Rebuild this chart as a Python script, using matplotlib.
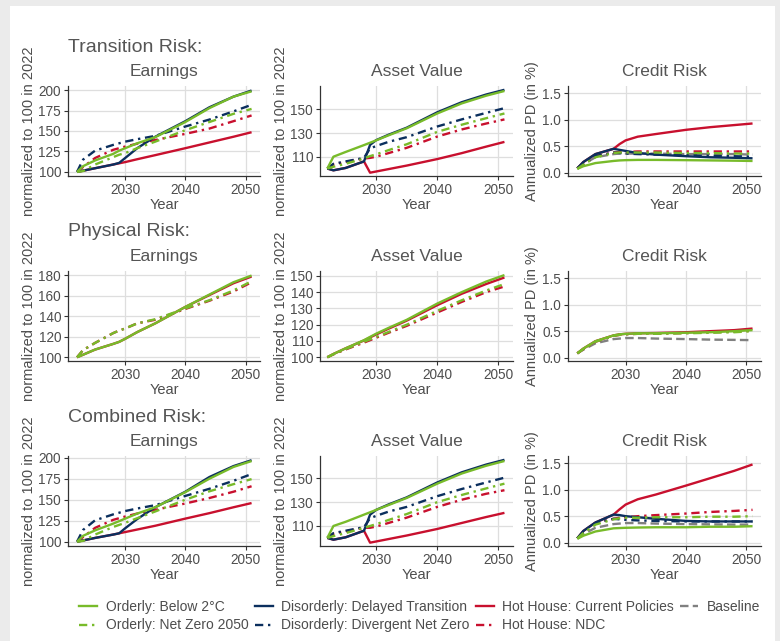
import matplotlib
matplotlib.use("Agg")
import matplotlib.pyplot as plt
from matplotlib.patches import Rectangle
from matplotlib.lines import Line2D

plt.rcParams['font.family'] = ['Liberation Sans', 'DejaVu Sans']

years = [2022, 2023, 2025, 2028, 2029, 2030, 2032, 2035, 2040, 2044, 2048, 2051]

# transition risk
te_below2 = [100, 107, 114, 122, 126, 129, 135, 142.5, 161, 178, 192, 198.5]
te_nz2050 = [100, 101, 109, 118, 121, 123, 129, 137, 151, 161, 171, 177]
te_delayed = [100, 101.5, 104.5, 109, 111, 117, 129, 143, 162, 179, 192, 199.5]
te_divergent = [100, 115, 126, 133, 135, 137, 140, 144, 155.5, 164, 174, 182]
te_current = [100, 101.5, 104.5, 109, 110.5, 112, 115.5, 120.5, 129, 136, 143, 148.5]
te_ndc = [100, 106, 117, 127, 129, 131, 134.5, 139, 146.5, 153, 162, 169]

ta_below2 = [100, 110, 114, 119.8, 121.8, 123.8, 128, 134, 146.5, 155, 161.5, 165.5]
ta_nz2050 = [100, 101.5, 104, 108.5, 110.5, 112, 115.5, 120.5, 131, 137, 142.5, 146.5]
ta_delayed = [100, 98.5, 100.5, 106, 120, 124, 128.5, 134.5, 147.5, 156, 162.5, 166.5]
ta_divergent = [100, 104, 106, 109, 117, 119, 122.5, 126.5, 135.5, 141.5, 147, 151]
ta_current = [100, 98.5, 100.5, 106, 96.5, 97.5, 99.5, 102.5, 108, 113, 118.5, 122.5]
ta_ndc = [100, 103.5, 105.5, 108.5, 109, 110, 113, 117.5, 127, 133, 138, 141.5]

tc_below2 = [0.07, 0.12, 0.18, 0.22, 0.23, 0.235, 0.24, 0.24, 0.235, 0.23, 0.225, 0.22]
tc_nz2050 = [0.07, 0.15, 0.29, 0.37, 0.38, 0.38, 0.38, 0.38, 0.37, 0.37, 0.36, 0.36]
tc_delayed = [0.08, 0.2, 0.35, 0.45, 0.43, 0.41, 0.37, 0.34, 0.31, 0.29, 0.28, 0.27]
tc_divergent = [0.08, 0.17, 0.31, 0.38, 0.37, 0.36, 0.35, 0.34, 0.33, 0.32, 0.31, 0.30]
tc_current = [0.08, 0.2, 0.35, 0.45, 0.54, 0.61, 0.68, 0.73, 0.81, 0.86, 0.9, 0.93]
tc_ndc = [0.08, 0.17, 0.31, 0.38, 0.39, 0.39, 0.4, 0.4, 0.4, 0.4, 0.4, 0.4]
tc_baseline = [0.08, 0.16, 0.29, 0.35, 0.36, 0.36, 0.36, 0.36, 0.35, 0.35, 0.35, 0.34]

# physical risk
pe_below2 = [100, 102.5, 107.5, 113, 115, 118, 124.5, 133, 149, 161, 173, 179.5]
pe_nz2050 = [100, 107, 114, 123.5, 126, 128, 133, 137, 147.5, 155.5, 165, 174]
pe_current = [100, 102.5, 107.5, 113, 115, 118, 124.5, 133, 149, 160.5, 172, 178.5]
pe_ndc = [100, 107, 114, 123.5, 126, 128, 133, 136.5, 147, 155, 164, 173]

pa_below2 = [100, 102, 105.5, 110.5, 112.5, 114.5, 118, 123, 133, 140, 146.5, 150.5]
pa_nz2050 = [100, 101.8, 105, 109.5, 111, 112.5, 115.5, 120, 128.5, 135, 141, 145]
pa_current = [100, 102, 105.5, 110.3, 112.2, 114, 117.5, 122.5, 132, 139, 145, 149]
pa_ndc = [100, 101.8, 104.8, 109, 110.5, 112, 115, 119.3, 127.5, 134, 140, 143.5]

pc_below2 = [0.08, 0.17, 0.31, 0.42, 0.44, 0.45, 0.46, 0.46, 0.47, 0.48, 0.5, 0.52]
pc_nz2050 = [0.08, 0.16, 0.3, 0.41, 0.43, 0.44, 0.45, 0.45, 0.46, 0.47, 0.48, 0.5]
pc_current = [0.08, 0.17, 0.31, 0.42, 0.44, 0.45, 0.46, 0.465, 0.48, 0.5, 0.52, 0.55]
pc_ndc = [0.08, 0.16, 0.3, 0.41, 0.43, 0.44, 0.45, 0.455, 0.465, 0.48, 0.49, 0.51]
pc_baseline = [0.08, 0.15, 0.27, 0.35, 0.36, 0.37, 0.37, 0.36, 0.35, 0.34, 0.335, 0.33]

# combined risk
ce_below2 = [100, 107, 113.5, 121.5, 124.5, 127.5, 133.5, 141, 159, 175, 189, 196]
ce_nz2050 = [100, 101, 108.5, 117.5, 120, 122.5, 128, 136, 150, 160, 168.5, 174.5]
ce_delayed = [100, 101.5, 104.5, 108.5, 110, 116, 127, 141, 159.5, 177, 190, 197]
ce_divergent = [100, 114, 125.5, 132.5, 134.5, 136.5, 139.5, 143.5, 154.5, 163, 172.5, 180.5]
ce_current = [100, 101.5, 104.5, 108.5, 110, 111.5, 114.5, 119, 127.5, 134, 141, 146]
ce_ndc = [100, 105.5, 116.5, 126, 128, 130, 133.5, 138, 145.5, 152, 159.5, 166]

ca_below2 = [100, 110, 113.5, 119.5, 121.5, 123.5, 127.5, 133.5, 145.5, 154, 160.5, 164.5]
ca_nz2050 = [100, 101.5, 104, 108.5, 110, 111.5, 115, 120, 130, 136, 141.5, 145.5]
ca_delayed = [100, 98.5, 100.5, 106, 119.5, 123.5, 128, 134, 146.5, 155, 161.5, 165.5]
ca_divergent = [100, 104, 106, 109, 116.5, 118.5, 122, 126, 135, 141, 146.5, 150.5]
ca_current = [100, 98.5, 100.5, 106, 96, 97, 99, 102, 107.5, 112.5, 117.5, 121]
ca_ndc = [100, 103.5, 105.5, 108.5, 108.5, 109.5, 112.5, 117, 126, 132, 137, 140]

cc_below2 = [0.07, 0.13, 0.21, 0.27, 0.275, 0.28, 0.285, 0.29, 0.29, 0.3, 0.3, 0.31]
cc_nz2050 = [0.08, 0.18, 0.34, 0.44, 0.46, 0.47, 0.47, 0.48, 0.48, 0.49, 0.49, 0.5]
cc_delayed = [0.08, 0.22, 0.38, 0.53, 0.52, 0.5, 0.48, 0.45, 0.41, 0.4, 0.4, 0.4]
cc_divergent = [0.08, 0.2, 0.37, 0.45, 0.44, 0.43, 0.42, 0.41, 0.4, 0.4, 0.4, 0.4]
cc_current = [0.08, 0.22, 0.38, 0.53, 0.63, 0.72, 0.82, 0.91, 1.08, 1.22, 1.36, 1.48]
cc_ndc = [0.08, 0.2, 0.37, 0.45, 0.47, 0.48, 0.5, 0.52, 0.55, 0.58, 0.6, 0.62]
cc_baseline = [0.08, 0.16, 0.28, 0.35, 0.36, 0.37, 0.37, 0.36, 0.35, 0.345, 0.34, 0.34]

scenarios = ['Orderly: Below 2°C', 'Orderly: Net Zero 2050', 'Disorderly: Delayed Transition',
             'Disorderly: Divergent Net Zero', 'Hot House: Current Policies', 'Hot House: NDC', 'Baseline']

GREEN = '#78bb2a'
NAVY = '#0b2f5e'
RED = '#c8102e'
GREY = '#808080'
DASHDOT = (0, (3.5, 2, 1, 2))
styles = {
    'Orderly: Below 2°C': (GREEN, '-'),
    'Orderly: Net Zero 2050': (GREEN, DASHDOT),
    'Disorderly: Delayed Transition': (NAVY, '-'),
    'Disorderly: Divergent Net Zero': (NAVY, DASHDOT),
    'Hot House: Current Policies': (RED, '-'),
    'Hot House: NDC': (RED, DASHDOT),
    'Baseline': (GREY, (0, (3.6, 1.8))),
}
# drawing order: baseline, red, navy, green on top
draw_order = ['Baseline', 'Hot House: NDC', 'Hot House: Current Policies',
              'Disorderly: Divergent Net Zero', 'Disorderly: Delayed Transition',
              'Orderly: Net Zero 2050', 'Orderly: Below 2°C']

panels = [
    # row, col, data, ylim, yticks
    (0, 0, {'Orderly: Below 2°C': te_below2, 'Orderly: Net Zero 2050': te_nz2050,
            'Disorderly: Delayed Transition': te_delayed, 'Disorderly: Divergent Net Zero': te_divergent,
            'Hot House: Current Policies': te_current, 'Hot House: NDC': te_ndc},
     (95, 205), [100, 125, 150, 175, 200]),
    (0, 1, {'Orderly: Below 2°C': ta_below2, 'Orderly: Net Zero 2050': ta_nz2050,
            'Disorderly: Delayed Transition': ta_delayed, 'Disorderly: Divergent Net Zero': ta_divergent,
            'Hot House: Current Policies': ta_current, 'Hot House: NDC': ta_ndc},
     (93.7, 169.7), [110, 130, 150]),
    (0, 2, {'Orderly: Below 2°C': tc_below2, 'Orderly: Net Zero 2050': tc_nz2050,
            'Disorderly: Delayed Transition': tc_delayed, 'Disorderly: Divergent Net Zero': tc_divergent,
            'Hot House: Current Policies': tc_current, 'Hot House: NDC': tc_ndc, 'Baseline': tc_baseline},
     (-0.065, 1.64), [0.0, 0.5, 1.0, 1.5]),
    (1, 0, {'Orderly: Below 2°C': pe_below2, 'Orderly: Net Zero 2050': pe_nz2050,
            'Hot House: Current Policies': pe_current, 'Hot House: NDC': pe_ndc},
     (96.4, 183.9), [100, 120, 140, 160, 180]),
    (1, 1, {'Orderly: Below 2°C': pa_below2, 'Orderly: Net Zero 2050': pa_nz2050,
            'Hot House: Current Policies': pa_current, 'Hot House: NDC': pa_ndc},
     (97.7, 153), [100, 110, 120, 130, 140, 150]),
    (1, 2, {'Orderly: Below 2°C': pc_below2, 'Orderly: Net Zero 2050': pc_nz2050,
            'Hot House: Current Policies': pc_current, 'Hot House: NDC': pc_ndc, 'Baseline': pc_baseline},
     (-0.065, 1.64), [0.0, 0.5, 1.0, 1.5]),
    (2, 0, {'Orderly: Below 2°C': ce_below2, 'Orderly: Net Zero 2050': ce_nz2050,
            'Disorderly: Delayed Transition': ce_delayed, 'Disorderly: Divergent Net Zero': ce_divergent,
            'Hot House: Current Policies': ce_current, 'Hot House: NDC': ce_ndc},
     (94.9, 202), [100, 125, 150, 175, 200]),
    (2, 1, {'Orderly: Below 2°C': ca_below2, 'Orderly: Net Zero 2050': ca_nz2050,
            'Disorderly: Delayed Transition': ca_delayed, 'Disorderly: Divergent Net Zero': ca_divergent,
            'Hot House: Current Policies': ca_current, 'Hot House: NDC': ca_ndc},
     (93.2, 168.7), [110, 130, 150]),
    (2, 2, {'Orderly: Below 2°C': cc_below2, 'Orderly: Net Zero 2050': cc_nz2050,
            'Disorderly: Delayed Transition': cc_delayed, 'Disorderly: Divergent Net Zero': cc_divergent,
            'Hot House: Current Policies': cc_current, 'Hot House: NDC': cc_ndc, 'Baseline': cc_baseline},
     (-0.065, 1.64), [0.0, 0.5, 1.0, 1.5]),
]

row_titles = ['Transition Risk:', 'Physical Risk:', 'Combined Risk:']
col_titles = ['Earnings', 'Asset Value', 'Credit Risk']
col_ylabels = ['normalized to 100 in 2022', 'normalized to 100 in 2022', 'Annualized PD (in %)']
xlims = [(2020.5, 2052.4), (2020.8, 2052.4), (2020.46, 2052.4)]

W, H = 780, 641
fig = plt.figure(figsize=(W / 100, H / 100), dpi=100, facecolor='#ebebeb')
fig.patches.append(Rectangle((10 / W, 0), 765 / W, 635 / H, transform=fig.transFigure,
                             facecolor='white', edgecolor='none', zorder=-1))

col_x = [(68, 260), (320, 513), (568, 761)]
row_top = [86, 271, 456]
panel_h = 90
TXT = '#4d4d4d'

def px_box(x0, x1, top, h):
    return [x0 / W, 1 - (top + h) / H, (x1 - x0) / W, h / H]

for row, col, data, ylim, yticks in panels:
    x0, x1 = col_x[col]
    ax = fig.add_axes(px_box(x0, x1, row_top[row], panel_h))
    for name in draw_order:
        if name in data:
            color, ls = styles[name]
            ax.plot(years, data[name], color=color, linestyle=ls, lw=1.7,
                    solid_capstyle='butt', dash_capstyle='butt')
    ax.set_xlim(xlims[col])
    ax.set_ylim(ylim)
    ax.set_xticks([2030, 2040, 2050])
    ax.set_yticks(yticks)
    if col == 2:
        ax.set_yticklabels(['%.1f' % t for t in yticks])
    ax.grid(True, color='#dedede', lw=0.9)
    ax.set_axisbelow(True)
    for s in ['top', 'right']:
        ax.spines[s].set_visible(False)
    for s in ['left', 'bottom']:
        ax.spines[s].set_color('#333333')
        ax.spines[s].set_linewidth(0.9)
    ax.tick_params(axis='both', labelsize=9.8, labelcolor=TXT, color='#333333',
                   length=3, width=0.8, pad=2)
    ax.set_xlabel('Year', fontsize=10.5, color=TXT, labelpad=1)
    ax.set_ylabel(col_ylabels[col], fontsize=10.5, color=TXT, labelpad=2)
    ax.set_title(col_titles[col], fontsize=12.5, color='#555555', pad=7)
    if col == 0:
        fig.text(x0 / W, 1 - (row_top[row] - 39) / H, row_titles[row], fontsize=14,
                 color='#555555', ha='left', va='center')

handles = [Line2D([], [], color=styles[n][0], linestyle=styles[n][1], lw=1.7) for n in scenarios]
fig.legend(handles, scenarios, loc='center', ncol=4, bbox_to_anchor=(0.538, 0.039),
           frameon=False, fontsize=10, labelcolor=TXT, handlelength=1.3, handletextpad=0.6,
           columnspacing=0.45, labelspacing=0.35)

fig.savefig('out.png', dpi=100, facecolor=fig.get_facecolor())
